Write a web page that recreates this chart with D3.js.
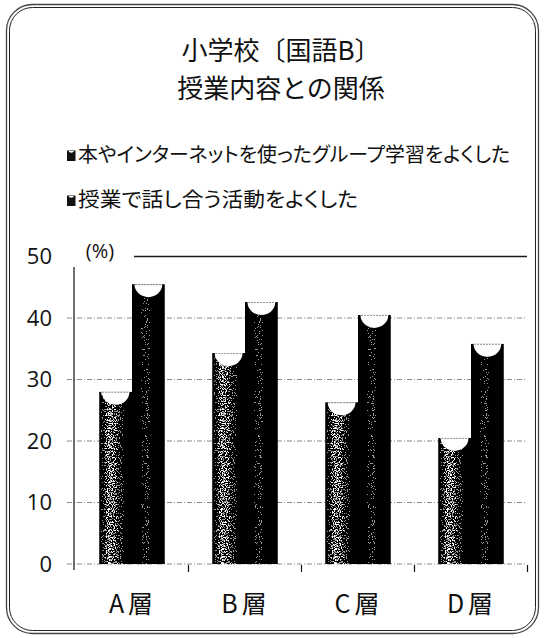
<!DOCTYPE html>
<html lang="ja">
<head>
<meta charset="utf-8">
<script src="https://cdn.jsdelivr.net/npm/d3@7"></script>
<style>
  html, body { margin: 0; padding: 0; background: #fff; }
  svg { display: block; }
  .jp { font-family: "Noto Sans CJK JP", "Noto Sans", sans-serif; }
  .num { font-family: "Open Sans", "Liberation Sans", sans-serif; }
</style>
</head>
<body>
<div id="chart"></div>
<script>
// 学力層別：授業内容との関係（小学校 国語B）
const titleLines = ["小学校〔国語B〕", "授業内容との関係"];
const categories = ["A層", "B層", "C層", "D層"];
const seriesNames = [
  "本やインターネットを使ったグループ学習をよくした",
  "授業で話し合う活動をよくした"
];
const groupStudy = [28.0, 34.3, 26.3, 20.5];   // グループ学習 (%)
const discussion = [45.5, 42.6, 40.5, 35.8];   // 話し合う活動 (%)
const yTicks = [0, 10, 20, 30, 40, 50];
const unitLabel = "(%)";

const W = 545, H = 638;
const svg = d3.select("#chart").append("svg")
  .attr("width", W).attr("height", H);

const defs = svg.append("defs");

// cylinder shading, left-lit (brightness drives the grain density)
const grad1 = defs.append("linearGradient").attr("id", "g1");
[[0, "#0a0a0a"], [0.12, "#6a6a6a"], [0.32, "#d2d2d2"], [0.55, "#8c8c8c"], [0.78, "#333"], [1, "#000"]]
  .forEach(([o, c]) => grad1.append("stop").attr("offset", o).attr("stop-color", c));
const grad2 = defs.append("linearGradient").attr("id", "g2");
[[0, "#000"], [0.25, "#3a3a3a"], [0.45, "#555"], [0.7, "#222"], [1, "#000"]]
  .forEach(([o, c]) => grad2.append("stop").attr("offset", o).attr("stop-color", c));

// halftone-like grain: shading + stretched noise, then hard threshold
const f = defs.append("filter").attr("id", "grain")
  .attr("x", 0).attr("y", 0).attr("width", 1).attr("height", 1)
  .attr("color-interpolation-filters", "sRGB");
f.append("feTurbulence").attr("type", "fractalNoise").attr("baseFrequency", 0.85)
  .attr("numOctaves", 2).attr("seed", 7).attr("result", "noise");
f.append("feColorMatrix").attr("in", "noise").attr("type", "matrix")
  .attr("values", "1 0 0 0 0  1 0 0 0 0  1 0 0 0 0  0 0 0 0 1").attr("result", "n0");
const st = f.append("feComponentTransfer").attr("in", "n0").attr("result", "n");
["feFuncR", "feFuncG", "feFuncB"].forEach(fn =>
  st.append(fn).attr("type", "linear").attr("slope", 3.2).attr("intercept", -1.1));
f.append("feComposite").attr("in", "SourceGraphic").attr("in2", "n")
  .attr("operator", "arithmetic").attr("k1", 0).attr("k2", 1).attr("k3", 1).attr("k4", -0.75)
  .attr("result", "sum");
const ct = f.append("feComponentTransfer").attr("in", "sum").attr("result", "bw");
["feFuncR", "feFuncG", "feFuncB"].forEach(fn =>
  ct.append(fn).attr("type", "discrete").attr("tableValues", "0 0 0.6 1"));
f.append("feComposite").attr("in", "bw").attr("in2", "SourceAlpha").attr("operator", "in");

// frame (double rounded border)
svg.append("rect").attr("x", 6.5).attr("y", 4.5).attr("width", 532).attr("height", 629)
  .attr("rx", 26).attr("fill", "none").attr("stroke", "#444").attr("stroke-width", 1.3);
svg.append("rect").attr("x", 9.5).attr("y", 7.5).attr("width", 526).attr("height", 623)
  .attr("rx", 23).attr("fill", "none").attr("stroke", "#222").attr("stroke-width", 1);

// title
svg.append("g").selectAll("text").data(titleLines).join("text")
  .attr("class", "jp")
  .attr("x", 281).attr("y", (d, i) => 60 + i * 38)
  .attr("text-anchor", "middle").attr("font-size", 26).attr("fill", "#111")
  .text(d => d);

// legend
const legendWidths = [432, 280];
const lg = svg.append("g").selectAll("g").data(seriesNames).join("g")
  .attr("transform", (d, i) => `translate(67,${161.5 + i * 45})`);
lg.append("rect").attr("x", 0).attr("y", -11).attr("width", 8.5).attr("height", 10.5).attr("fill", "#111");
lg.append("path").attr("d", "M1.5,-10.5 L7,-10.5 A2.8,2.2 0 0 1 1.5,-10.5 Z").attr("fill", "#fff");
lg.append("text").attr("class", "jp")
  .attr("x", 11).attr("y", 0)
  .attr("font-size", 20.5).attr("fill", "#111")
  .style("font-feature-settings", "'palt'")
  .attr("textLength", (d, i) => legendWidths[i]).attr("lengthAdjust", "spacingAndGlyphs")
  .text(d => d);

// scales
const y = d3.scaleLinear().domain([0, 50]).range([564, 256.5]);
const x0 = d3.scaleBand().domain(categories).range([75.5, 527.5])
  .paddingInner(0.42).paddingOuter(0.21);
const keys = ["groupStudy", "discussion"];
const x1 = d3.scaleBand().domain(keys).range([0, x0.bandwidth()]);
const step = x0.step();
const plotLeft = 67, plotRight = 527;

// gridlines (dash-dot gray), top line solid
const grid = svg.append("g");
grid.selectAll("line").data(yTicks).join("line")
  .attr("x1", plotLeft).attr("x2", plotRight)
  .attr("y1", d => y(d)).attr("y2", d => y(d))
  .attr("stroke", d => d === 50 ? "#1a1a1a" : "#8a8a8a")
  .attr("stroke-width", d => d === 50 ? 1.4 : 1)
  .attr("stroke-dasharray", d => d === 50 ? null : "5,2,1,2");

// value axis line and category ticks
svg.append("line").attr("x1", x0.range()[0] - 1.5).attr("x2", x0.range()[0] - 1.5)
  .attr("y1", y(0) + 6).attr("y2", y(50)).attr("stroke", "#111").attr("stroke-width", 1.2);
svg.append("g").selectAll("line").data(categories).join("line")
  .attr("x1", c => x0(c) - step * 0.21 + step).attr("x2", c => x0(c) - step * 0.21 + step)
  .attr("y1", y(0) + 1).attr("y2", y(0) + 8)
  .attr("stroke", "#111").attr("stroke-width", 1.2);

// unit label sits on a white plate over the top line
svg.append("rect").attr("x", 60).attr("y", 238).attr("width", 74).attr("height", 29).attr("fill", "#fff");
svg.append("text").attr("class", "num")
  .attr("x", 100).attr("y", 251).attr("dy", "0.35em")
  .attr("text-anchor", "middle").attr("font-size", 20).attr("fill", "#111")
  .text(unitLabel);

// y tick labels
svg.append("g").selectAll("text").data(yTicks).join("text")
  .attr("class", "num")
  .attr("x", 52).attr("y", d => y(d)).attr("dy", "0.36em")
  .attr("text-anchor", "end").attr("font-size", 22).attr("fill", "#111")
  .text(d => d);

// bars
const rows = categories.map((c, i) => ({ cat: c, groupStudy: groupStudy[i], discussion: discussion[i] }));
const fills = { groupStudy: "url(#g1)", discussion: "url(#g2)" };
const bars = svg.append("g").selectAll("g").data(rows).join("g")
  .attr("transform", d => `translate(${x0(d.cat)},0)`)
  .selectAll("g").data(d => keys.map(k => ({ key: k, value: d[k] }))).join("g");

bars.append("rect")
  .attr("x", d => x1(d.key)).attr("y", d => y(d.value))
  .attr("width", x1.bandwidth()).attr("height", d => y(0) - y(d.value))
  .attr("fill", d => fills[d.key])
  .attr("filter", "url(#grain)");

// open top of each cylinder
const ry = 13;
bars.append("path")
  .attr("d", d => {
    const rx = x1.bandwidth() / 2 - 2.5;
    const cx = x1(d.key) + x1.bandwidth() / 2;
    const t = y(d.value);
    return `M${cx + rx},${t} L${cx - rx},${t} A${rx},${ry} 0 0 0 ${cx + rx},${t} Z`;
  })
  .attr("fill", "#fff");
bars.append("line")
  .attr("x1", d => x1(d.key) + 3).attr("x2", d => x1(d.key) + x1.bandwidth() - 3)
  .attr("y1", d => y(d.value) + 0.5).attr("y2", d => y(d.value) + 0.5)
  .attr("stroke", "#777").attr("stroke-width", 0.8).attr("stroke-dasharray", "2,1");

// category labels: letter and 層 set slightly apart
const catText = svg.append("g").selectAll("text").data(categories).join("text")
  .attr("class", "jp")
  .attr("x", c => x0(c) + x0.bandwidth() / 2 - 1).attr("y", 613)
  .attr("text-anchor", "middle").attr("font-size", 25).attr("font-weight", 400).attr("fill", "#111");
catText.append("tspan").text(c => c.slice(0, 1));
catText.append("tspan").attr("dx", 4).text(c => c.slice(1));
</script>
</body>
</html>
